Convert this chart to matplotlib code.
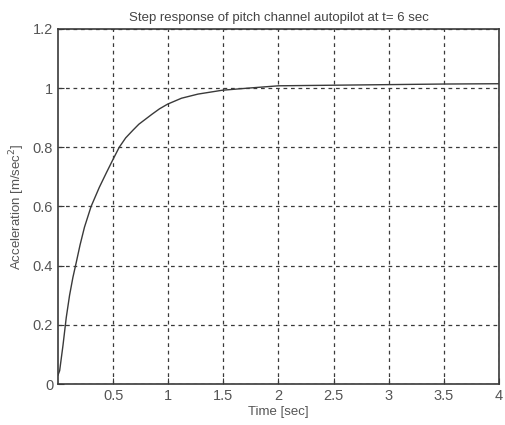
import matplotlib
matplotlib.use("Agg")
import matplotlib.pyplot as plt
from matplotlib import font_manager

# step response
t_data = [0.0, 0.015, 0.045, 0.075, 0.105, 0.135, 0.165, 0.20, 0.24, 0.30, 0.375,
          0.44, 0.50, 0.555, 0.614, 0.68, 0.733, 0.80, 0.853, 0.92, 0.994, 1.12,
          1.27, 1.49, 1.72, 2.0, 2.5, 3.0, 3.5, 4.0]
y_data = [0.03, 0.045, 0.13, 0.225, 0.30, 0.36, 0.41, 0.47, 0.53, 0.60, 0.665,
          0.715, 0.76, 0.80, 0.832, 0.858, 0.878, 0.897, 0.912, 0.93, 0.946, 0.966,
          0.98, 0.993, 1.0, 1.008, 1.01, 1.012, 1.014, 1.015]

x_ticks = [0.5, 1, 1.5, 2, 2.5, 3, 3.5, 4]
x_labels = ["0.5", "1", "1.5", "2", "2.5", "3", "3.5", "4"]
y_ticks = [0, 0.2, 0.4, 0.6, 0.8, 1, 1.2]
y_labels = ["0", "0.2", "0.4", "0.6", "0.8", "1", "1.2"]

names = {f.name for f in font_manager.fontManager.ttflist}
fam = "Liberation Sans Narrow" if "Liberation Sans Narrow" in names else "Liberation Sans"
plt.rcParams['font.family'] = [fam, 'DejaVu Sans']

ink = "#3a3a3a"
fig = plt.figure(figsize=(5.06, 4.25), dpi=100)
ax = fig.add_axes([58 / 506, 1 - 384 / 425, (499 - 58) / 506, (384 - 29) / 425])

ax.plot(t_data, y_data, color=ink, lw=1.0)
ax.set_xlim(0, 4)
ax.set_ylim(0, 1.2)
ax.set_xticks(x_ticks)
ax.set_xticklabels(x_labels)
ax.set_yticks(y_ticks)
ax.set_yticklabels(y_labels)
ax.grid(True, color=ink, linestyle=(0, (3, 3)), lw=0.9)
ax.tick_params(direction='in', length=4, colors=ink, labelsize=10.5, labelcolor="#555555")
for s in ax.spines.values():
    s.set_color(ink)
    s.set_linewidth(1.2)

ax.set_title("Step response of pitch channel autopilot at t= 6 sec", fontsize=9.5,
             color="#444444", pad=6)
ax.set_xlabel("Time [sec]", fontsize=9.5, color="#555555", labelpad=2)
ax.set_ylabel("Acceleration [m/sec$^2$]", fontsize=9.5, color="#555555", labelpad=4)

fig.savefig("out.png", dpi=100, facecolor="white")
